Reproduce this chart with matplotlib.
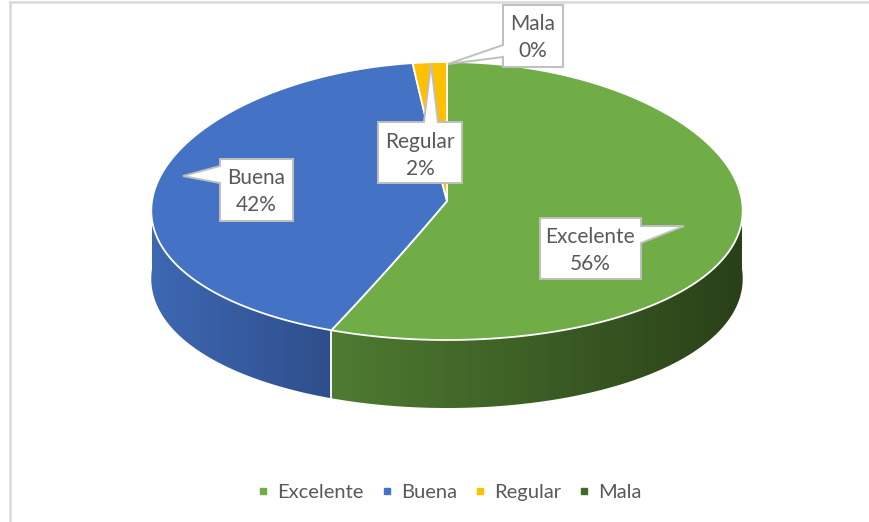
import numpy as np
import matplotlib
matplotlib.use('Agg')
import matplotlib.pyplot as plt
from matplotlib.patches import Polygon
from matplotlib.lines import Line2D
from matplotlib.path import Path
from matplotlib.transforms import Transform
from matplotlib.colors import LinearSegmentedColormap

# ---- data ----
categories = ['Excelente', 'Buena', 'Regular', 'Mala']
values = [56, 42, 2, 0]
top_colors = ['#70AD47', '#4472C4', '#FFC000', '#FFC000']
legend_colors = ['#70AD47', '#4472C4', '#FFC000', '#43682B']
wall_colors = [('#4E7B31', '#2A4018'), ('#3E68B3', '#2E4E8B'),
               ('#C99700', '#A07800'), ('#3F6A2A', '#2A4018')]

plt.rcParams['font.family'] = ['Lato', 'DejaVu Sans']
TXT = '#595959'

W, H = 870, 522
fig = plt.figure(figsize=(W / 100, H / 100), dpi=100)

# pie geometry (pixels)
CX, CY = 447, 201
RX, RY = 295, 139
DEPTH = 68 / RY
PERSP = 0.07  # front of the disc drawn slightly wider (3-D look)


class Persp(Transform):
    input_dims = output_dims = 2
    is_separable = False
    has_inverse = False

    def __init__(self, p):
        super().__init__()
        self.p = p

    def transform_non_affine(self, xy):
        xy = np.asarray(xy, float).reshape(-1, 2)
        return np.column_stack([xy[:, 0] * (1 - self.p * xy[:, 1]), xy[:, 1]])

    def transform_path_non_affine(self, path):
        pts = []
        ts = np.linspace(0, 1, 40)[1:]
        for bez, code in path.iter_bezier():
            cp = np.asarray(bez.control_points)
            if code == Path.MOVETO or len(cp) == 1:
                pts.append(cp[-1][None, :])
            else:
                pts.append(np.asarray(bez(ts)))
        verts = np.concatenate(pts)
        verts = np.vstack([verts, verts[:1]])
        return Path(self.transform_non_affine(verts), closed=True)


persp = Persp(PERSP)


def warp(x, y):
    return x * (1 - PERSP * y), y


ax = fig.add_axes([0, 0, 1, 1])
wedges, _ = ax.pie(values, colors=top_colors, startangle=90, counterclock=False,
                   radius=1, center=(0, 0),
                   wedgeprops=dict(edgecolor='white', linewidth=1.3))
for w, v in zip(wedges, values):
    w.set_zorder(3)
    w.set_transform(persp + ax.transData)
    if v == 0:
        w.set_visible(False)

# side walls
total = float(sum(values))
cum = np.concatenate([[0], np.cumsum(values)]) / total
starts = 90 - 360 * cum[:-1]
ends = 90 - 360 * cum[1:]
seams = []
for i in range(len(values)):
    hi, lo = starts[i], ends[i]
    if hi - lo <= 0:
        continue
    for k in range(0, 2):
        fr_hi, fr_lo = -360 * k, -180 - 360 * k
        a = max(lo, fr_lo)
        b = min(hi, fr_hi)
        if b <= a:
            continue
        t = np.radians(np.linspace(a, b, 200))
        xs, ys = warp(np.cos(t), np.sin(t))
        pts = np.vstack([np.column_stack([xs, ys]),
                         np.column_stack([xs[::-1], ys[::-1] - DEPTH])])
        poly = Polygon(pts, closed=True, facecolor='none', edgecolor='none')
        ax.add_patch(poly)
        cm = LinearSegmentedColormap.from_list('w%d' % i, list(wall_colors[i]))
        im = ax.imshow(np.linspace(0, 1, 256)[None, :], cmap=cm, aspect='auto',
                       extent=[xs.min(), xs.max(), ys.min() - DEPTH, ys.max()],
                       zorder=1, interpolation='bilinear')
        im.set_clip_path(poly)
        for ang in (a, b):
            if fr_lo < ang < fr_hi:
                seams.append(ang)
for ang in set(seams):
    r = np.radians(ang)
    sx, sy = warp(np.cos(r), np.sin(r))
    ax.plot([sx, sx], [sy, sy - DEPTH], color='white', lw=1.3, zorder=2)

ax.set_xlim(-CX / RX, (W - CX) / RX)
ax.set_ylim(-(H - CY) / RY, CY / RY)
ax.set_aspect('auto')
ax.axis('off')

# ---- overlay (pixel coordinates) for callouts and border ----
ov = fig.add_axes([0, 0, 1, 1], facecolor='none')
ov.set_xlim(0, W)
ov.set_ylim(H, 0)
ov.axis('off')

ov.plot([10, W], [2, 2], color='#D9D9D9', lw=1.8)
ov.plot([10, 10], [2, H], color='#D9D9D9', lw=1.8)


def callout(x0, y0, x1, y1, side, b1, b2, tip):
    v = [(x0, y0)]
    if side == 'top':
        v += [(b1, y0), tip, (b2, y0)]
    v.append((x1, y0))
    if side == 'right':
        v += [(x1, b1), tip, (x1, b2)]
    v.append((x1, y1))
    v.append((x0, y1))
    if side == 'left':
        v += [(x0, b2), tip, (x0, b1)]
    p = Polygon(v, closed=True, facecolor='white', edgecolor='#BFBFBF',
                lw=1.4, zorder=5, joinstyle='miter')
    ov.add_patch(p)


pct = ['%d%%' % round(100 * v / total) for v in values]

boxes = {
    'Excelente': dict(box=(540, 218, 641, 279), side='right', b=(226, 243), tip=(684, 226), tx=590, ty=(237, 264)),
    'Buena': dict(box=(220, 159, 293, 221), side='left', b=(166, 183), tip=(183, 176), tx=256, ty=(178, 205)),
    'Regular': dict(box=(378, 122, 462, 183), side='top', b=(424, 438), tip=(431, 64), tx=420, ty=(142, 169)),
    'Mala': dict(box=(503, 5, 563, 67), side='left', b=(45, 57), tip=(448, 64), tx=533, ty=(24, 51)),
}
for cat, p in zip(categories, pct):
    d = boxes[cat]
    x0, y0, x1, y1 = d['box']
    callout(x0, y0, x1, y1, d['side'], d['b'][0], d['b'][1], d['tip'])
    ov.text(d['tx'], d['ty'][0], cat, ha='center', va='center', fontsize=15, color=TXT, zorder=6)
    ov.text(d['tx'], d['ty'][1], p, ha='center', va='center', fontsize=15, color=TXT, zorder=6)

handles = [Line2D([], [], marker='s', linestyle='none', markersize=5,
                  markerfacecolor=c, markeredgecolor=c) for c in legend_colors]
fig.legend(handles, categories, loc='center', bbox_to_anchor=(449 / W, 1 - 492 / H),
           ncol=4, frameon=False, fontsize=14.5, handlelength=0.7, handletextpad=0.35,
           columnspacing=0.8, labelcolor=TXT)

fig.savefig('out.png', dpi=100)
